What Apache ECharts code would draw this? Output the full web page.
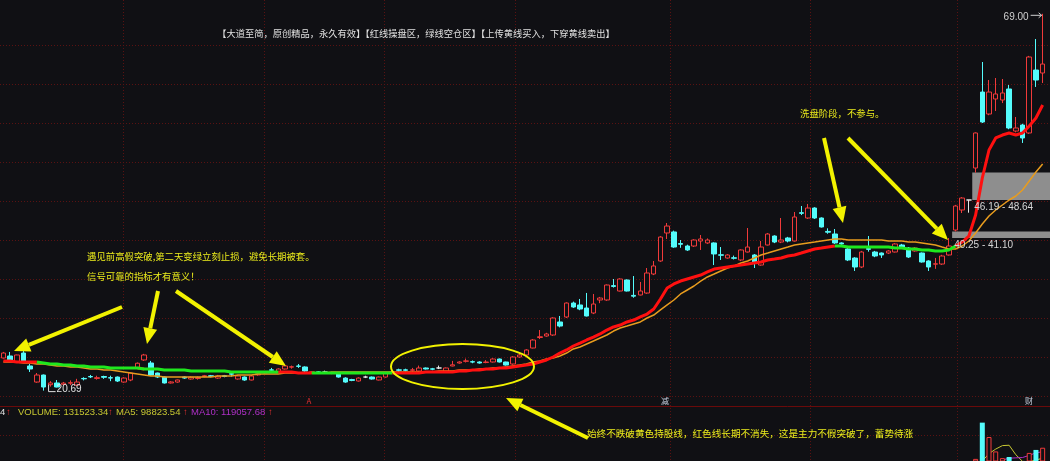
<!DOCTYPE html>
<html>
<head>
<meta charset="utf-8">
<script src="https://cdn.jsdelivr.net/npm/echarts@6/dist/echarts.min.js"></script>
<style>
html,body{margin:0;padding:0;background:#101014;overflow:hidden;}
#chart{width:1050px;height:461px;}
</style>
</head>
<body>
<div id="chart"></div>
<script>
// ---------------- DATA ----------------
const opens = [24.87,25.13,24.36,25.51,23.85,21.79,22.69,21.45,21.67,21.50,
21.65,21.41,22.25,22.50,22.25,22.50,22.35,22.43,21.79,22.05,
23.60,24.62,24.23,22.95,22.43,21.67,21.79,22.43,22.18,22.25,
22.50,22.60,22.30,22.60,22.85,22.18,22.43,22.05,22.70,22.95,
23.35,23.08,23.46,23.70,23.85,23.72,23.05,23.10,23.08,22.90,
22.95,22.30,22.10,21.92,22.43,22.43,22.05,22.43,23.00,23.35,
23.35,23.30,23.20,23.59,23.48,23.59,23.08,23.85,24.23,24.45,
24.40,24.36,24.30,24.36,24.74,24.36,24.10,25.00,25.26,26.15,
27.50,27.69,27.82,29.49,30.13,31.92,31.67,31.28,30.64,32.31,
32.31,34.15,33.46,34.87,32.90,32.95,33.20,35.64,37.31,40.90,
41.03,39.55,39.23,39.23,39.87,39.62,39.62,38.10,37.69,37.72,
37.44,38.46,38.08,36.79,39.36,40.51,39.74,40.26,39.87,43.50,
42.82,44.10,42.82,41.10,40.77,39.62,38.85,37.69,36.54,38.90,
38.46,38.33,38.33,38.46,39.36,38.97,38.59,38.33,37.31,36.90,
36.92,38.08,41.28,43.85,45.13,49.23,58.97,56.15,58.08,57.95,
59.36,53.97,54.74,53.72,61.79,61.41];
const closes = [25.51,24.49,25.26,24.36,23.46,22.69,21.15,21.67,21.15,21.65,
21.70,21.79,22.20,22.45,22.35,22.40,22.30,21.92,22.30,22.95,
24.20,25.26,22.69,22.43,21.67,21.80,22.05,22.30,22.40,22.35,
22.60,22.50,22.56,22.50,22.80,22.56,22.05,22.56,22.85,23.08,
23.30,23.46,23.85,23.75,23.80,23.20,23.10,23.00,23.08,23.00,
22.43,21.79,22.00,22.30,22.43,22.18,22.43,22.95,23.10,23.30,
23.30,23.35,23.59,23.46,23.44,23.59,23.59,24.00,24.36,24.50,
24.35,24.23,24.36,24.74,24.36,23.97,25.00,25.26,25.90,27.18,
27.60,27.95,30.00,28.97,31.92,31.41,31.15,30.26,31.79,32.56,
34.23,34.05,35.00,33.46,32.80,33.46,35.77,36.67,40.38,41.79,
39.10,39.45,38.72,40.00,40.13,40.00,38.21,38.05,38.08,37.66,
38.72,39.10,37.05,39.10,40.77,39.74,40.00,39.87,42.95,43.42,
44.10,42.82,41.67,41.00,39.62,39.49,37.44,36.54,38.46,38.80,
37.95,38.08,38.59,39.49,39.10,37.82,38.97,37.18,36.54,36.95,
37.95,39.23,44.36,45.38,45.13,53.72,55.13,58.97,58.72,58.85,
54.36,54.36,53.08,63.46,60.51,62.56];
const lows = [24.80,24.40,24.25,24.30,23.08,21.70,20.69,21.20,21.10,21.40,
21.40,21.30,22.00,22.30,22.10,22.20,21.90,21.80,21.70,21.90,
23.50,24.50,22.60,22.30,21.60,21.60,21.70,22.20,22.10,22.10,
22.40,22.40,22.20,22.40,22.50,22.10,21.95,22.00,22.60,22.85,
23.10,23.00,23.40,23.50,23.60,23.10,22.95,22.90,22.95,22.80,
22.35,21.70,21.90,21.85,22.30,22.10,22.00,22.35,22.90,23.10,
23.15,23.10,23.10,23.40,23.30,23.45,23.00,23.80,24.15,24.30,
24.20,24.15,24.20,24.30,24.30,23.90,24.00,24.90,25.20,26.10,
27.30,27.60,27.70,28.80,30.00,31.30,31.00,30.20,30.50,31.90,
32.20,33.90,33.40,33.40,32.60,32.90,33.10,35.50,37.20,40.13,
39.00,39.00,38.60,39.10,38.72,39.50,36.79,37.44,37.60,37.50,
37.30,38.40,36.41,36.70,39.30,39.60,39.60,39.70,39.80,43.20,
42.70,42.70,41.60,40.80,39.50,39.40,37.30,36.03,36.40,38.50,
37.80,37.70,38.20,38.40,39.00,37.70,38.50,37.10,36.03,36.30,
36.80,38.00,41.10,43.46,43.50,48.64,55.00,56.00,56.54,57.56,
54.20,53.80,52.44,53.60,59.62,60.13];
const highs = [25.65,25.65,25.30,25.90,24.10,22.95,22.75,21.90,22.05,21.80,
22.00,22.20,22.40,22.70,22.60,22.60,22.60,22.50,22.40,23.00,
24.30,25.40,24.50,23.00,22.50,21.90,22.10,22.50,22.50,22.50,
22.70,22.70,22.70,22.70,23.10,22.70,22.50,22.70,22.95,23.20,
23.60,23.55,24.00,23.90,24.10,23.80,23.20,23.20,23.25,23.10,
23.00,22.40,22.20,22.40,22.60,22.50,22.50,23.00,23.20,23.50,
23.50,23.60,23.90,23.65,23.60,23.90,23.65,24.50,24.45,24.80,
24.55,24.45,24.60,24.85,24.80,24.40,25.10,25.50,26.00,27.30,
28.46,28.10,30.10,30.26,32.00,32.10,32.44,33.21,33.08,32.70,
34.30,35.00,35.10,34.95,35.38,34.62,36.41,37.31,40.50,42.18,
41.20,40.00,39.40,40.10,40.64,40.20,39.70,39.10,38.20,38.00,
38.80,41.54,38.20,39.87,40.90,40.60,42.82,40.40,43.59,44.36,
44.62,44.20,42.90,41.50,41.41,39.70,39.00,37.80,38.60,40.51,
38.60,38.40,38.70,39.60,39.50,39.10,39.10,38.40,37.40,37.70,
38.10,40.25,44.50,45.50,45.13,53.80,62.82,60.51,60.77,60.64,
59.87,55.77,54.90,63.60,65.77,69.00];
// thick trend line (red = 操盘区, green = 空仓区)
const trendLine = [24.49,24.49,24.36,24.36,24.36,24.36,24.23,24.10,24.10,23.97,
23.97,23.85,23.85,23.72,23.72,23.72,23.59,23.59,23.59,23.59,
23.59,23.46,23.46,23.46,23.33,23.33,23.33,23.33,23.21,23.21,
23.21,23.21,23.21,23.21,23.08,23.08,23.08,23.08,23.08,23.08,
23.08,23.08,23.08,23.08,22.95,22.95,22.95,22.95,22.95,22.95,
22.95,22.95,22.95,22.95,22.95,22.95,22.95,22.95,22.95,22.95,
22.95,22.95,22.95,23.08,23.08,23.08,23.08,23.08,23.21,23.21,
23.33,23.33,23.46,23.46,23.59,23.59,23.72,23.85,23.97,24.10,
24.36,24.62,25.00,25.51,25.90,26.41,26.79,27.18,27.56,27.95,
28.46,28.85,29.10,29.49,29.74,30.13,30.51,31.15,32.44,33.85,
34.36,34.74,35.00,35.26,35.51,35.90,36.28,36.41,36.54,36.67,
36.79,36.92,37.05,37.18,37.44,37.56,37.69,37.95,38.08,38.33,
38.59,38.85,38.97,39.10,39.23,39.23,39.10,39.10,39.10,39.10,
39.10,39.10,39.10,38.97,38.97,38.85,38.85,38.72,38.72,38.59,
38.59,38.72,39.23,39.74,40.51,43.21,47.95,51.54,53.08,53.46,
53.72,53.46,53.72,54.62,55.64,57.31];
// green (空仓区) stretches of the trend line, as [firstIndex, lastIndex]
const greenZones = [[6,19],[22,40],[47,57],[125,141]];
// thin yellow "持股线"
const holdLine = [24.36,24.36,24.36,24.23,24.23,24.10,24.10,23.97,23.85,23.85,
23.72,23.72,23.59,23.46,23.46,23.33,23.33,23.21,23.08,22.95,
22.82,22.69,22.56,22.56,22.44,22.44,22.44,22.44,22.44,22.44,
22.44,22.44,22.56,22.56,22.56,22.69,22.69,22.69,22.82,22.82,
22.82,22.82,22.95,22.95,22.95,22.95,22.95,22.95,22.95,23.08,
23.08,23.08,23.08,23.08,23.08,23.08,23.08,23.08,23.08,23.08,
23.08,23.08,23.08,23.08,23.08,23.21,23.21,23.21,23.33,23.33,
23.33,23.46,23.46,23.59,23.59,23.72,23.85,23.97,24.10,24.36,
24.49,24.74,24.87,25.13,25.51,26.03,26.28,26.67,27.05,27.44,
27.82,28.33,28.72,28.97,29.23,29.49,30.00,30.38,31.03,31.67,
32.31,33.08,33.59,34.10,34.74,35.26,35.64,36.03,36.41,36.67,
37.05,37.31,37.69,38.08,38.33,38.59,38.85,39.10,39.36,39.49,
39.62,39.74,39.87,40.00,40.13,40.13,40.00,40.00,40.00,40.00,
40.00,40.00,39.87,39.87,39.87,39.74,39.74,39.62,39.49,39.36,
39.10,38.85,38.85,39.23,39.87,40.90,42.05,43.08,43.85,44.49,
45.13,45.64,46.41,47.56,48.72,49.74];
// volume (only the tail that rises into view), starting at index 140
const volumeStart = 140;
const volumeTail = [45000,52000,50000,48000,45000,96600,210000,165000,120000,99000,
102455,62000,60700,115300,124600,131523.34];
const volMA5Start = 146;
const volMA5Tail = [89920,112920,127320,138120,139291,109691,88831,87891,93011,98823.54];
const volMA10Start = 149;
const volMA10Tail = [93060,98806,99806,100876,107606,115566,119057.68];
// price gaps (缺口)
const gapStartIdx = [142, 145];
const gapLow = [40.25, 45.13];
const gapHigh = [41.10, 48.64];
const gapLabels = ['40.25 - 41.10', '46.19 - 48.64'];
// price grid lines and visible ranges
const priceGridLines = [15, 20, 25, 30, 35, 40, 45, 50, 55, 60, 65];
const priceRange = [15, 70];
const volumeRange = [90000, 262000];
const lowLabel = '20.69';
const highLabel = '69.00';

// ---------------- BUILD ----------------
const N = opens.length;
const categories = Array.from({length: N}, (_, i) => 'K' + (i + 1));
const candleData = opens.map((o, i) => [o, closes[i], lows[i], highs[i]]);
const inGreen = i => greenZones.some(z => i >= z[0] && i <= z[1]);
const trendRed = trendLine.map((v, i) => inGreen(i) ? null : v);
const trendGreen = trendLine.map((v, i) => (inGreen(i) || inGreen(i - 1) || inGreen(i + 1)) ? v : null);
const pad = (start, tail) => Array.from({length: N}, (_, i) => (i >= start && i - start < tail.length) ? tail[i - start] : null);
const volFull = pad(volumeStart, volumeTail);
const volMA5 = pad(volMA5Start, volMA5Tail);
const volMA10 = pad(volMA10Start, volMA10Tail);

const BG = '#101014';
const UP = '#f03a3a';
const DOWN = '#54fcfc';
const volData = volFull.map((v, i) => {
  if (v == null) return null;
  const up = closes[i] >= opens[i];
  return {value: v, itemStyle: up ? {color: BG, borderColor: UP, borderWidth: 1} : {color: DOWN}};
});

const chart = echarts.init(document.getElementById('chart'), null, {renderer: 'canvas'});
const option = {
  backgroundColor: BG,
  animation: false,
  grid: [
    {left: 0, right: 4, top: 6, height: 429},
    {left: 0, right: 4, top: 406, height: 55}
  ],
  xAxis: [
    {type: 'category', gridIndex: 0, data: categories, boundaryGap: true,
     axisLine: {show: false}, axisTick: {show: false}, axisLabel: {show: false}, splitLine: {show: false}},
    {type: 'category', gridIndex: 1, data: categories, boundaryGap: true,
     axisLine: {show: false}, axisTick: {show: false}, axisLabel: {show: false}, splitLine: {show: false}}
  ],
  yAxis: [
    {type: 'value', gridIndex: 0, min: priceRange[0], max: priceRange[1],
     axisLine: {show: false}, axisTick: {show: false}, axisLabel: {show: false}, splitLine: {show: false}},
    {type: 'value', gridIndex: 1, min: volumeRange[0], max: volumeRange[1],
     axisLine: {show: false}, axisTick: {show: false}, axisLabel: {show: false}, splitLine: {show: false}}
  ],
  series: [
    {type: 'candlestick', name: 'K', xAxisIndex: 0, yAxisIndex: 0, data: candleData,
     barWidth: 5, z: 2,
     itemStyle: {color: BG, color0: DOWN, borderColor: UP, borderColor0: DOWN, borderColorDoji: '#e6e6e6', borderWidth: 1}},
    {type: 'line', name: 'hold', data: holdLine, xAxisIndex: 0, yAxisIndex: 0, symbol: 'none', z: 3,
     lineStyle: {color: '#e89c1e', width: 1.5}},
    {type: 'line', name: 'trendRed', data: trendRed, xAxisIndex: 0, yAxisIndex: 0, symbol: 'none', z: 4,
     connectNulls: false, lineStyle: {color: '#ff1010', width: 3}},
    {type: 'line', name: 'trendGreen', data: trendGreen, xAxisIndex: 0, yAxisIndex: 0, symbol: 'none', z: 5,
     connectNulls: false, lineStyle: {color: '#1ee81e', width: 3}},
    {type: 'line', name: 'MA5', data: volMA5, xAxisIndex: 1, yAxisIndex: 1, symbol: 'none', z: 2,
     lineStyle: {color: '#c8c832', width: 1}},
    {type: 'line', name: 'MA10', data: volMA10, xAxisIndex: 1, yAxisIndex: 1, symbol: 'none', z: 2,
     lineStyle: {color: '#b030c8', width: 1}},
    {type: 'bar', name: 'VOLUME', data: volData, xAxisIndex: 1, yAxisIndex: 1, barWidth: 5, z: 3, clip: true}
  ]
};
chart.setOption(option);

// ---------------- OVERLAYS ----------------
const px = (i, p) => chart.convertToPixel({xAxisIndex: 0, yAxisIndex: 0}, [i, p]);
const x0 = px(0, 20)[0], step = px(1, 20)[0] - x0;
const g = [];
const CJK = '"Noto Sans CJK SC", sans-serif';
const NUM = '"Liberation Sans", Arial, sans-serif';
const YEL = '#ecec1c';
const GRIDC = '#5a1212';

// horizontal dotted price grid lines
priceGridLines.forEach(p => {
  const y = Math.round(px(0, p)[1]) + 0.5;
  g.push({type: 'line', z: 0, silent: true, shape: {x1: 0, y1: y, x2: 1050, y2: y},
    style: {stroke: GRIDC, lineWidth: 1, lineDash: [1, 2]}});
});
// vertical dotted separators (fractional candle positions)
const vSep = [17.8, 38.8, 56.7, 76.3, 99.4, 120.3, 142.2];
vSep.forEach(k => {
  const x = Math.round(x0 + k * step) + 0.5;
  g.push({type: 'line', z: 0, silent: true, shape: {x1: x, y1: 0, x2: x, y2: 461},
    style: {stroke: GRIDC, lineWidth: 1, lineDash: [1, 2]}});
});
// panel separator
g.push({type: 'line', z: 1, shape: {x1: 0, y1: 406.5, x2: 1050, y2: 406.5}, style: {stroke: '#6a0a0a', lineWidth: 1}});

// gap bands
gapStartIdx.forEach((k, j) => {
  const left = x0 + (k - 0.5) * step;
  const yTop = px(k, gapHigh[j])[1], yBot = px(k, gapLow[j])[1];
  g.push({type: 'rect', z: 1, shape: {x: left, y: yTop, width: 1050 - left, height: yBot - yTop},
    style: {fill: '#8e8e8e'}});
  g.push({type: 'text', z: 50, style: {text: gapLabels[j], x: left + 2, y: yBot + 7, fill: '#d6d6d6',
    font: '10px ' + NUM, textAlign: 'left', textVerticalAlign: 'middle'}});
});

// low / high labels
const lowI = lows.indexOf(Math.min(...lows));
const lp = px(lowI, lows[lowI]);
g.push({type: 'polyline', z: 50, shape: {points: [[lp[0] + 5, lp[1] - 6], [lp[0] + 5, lp[1] + 1], [lp[0] + 12, lp[1] + 1]]},
  style: {stroke: '#e0e0e0', lineWidth: 1, fill: null}});
g.push({type: 'text', z: 50, style: {text: lowLabel, x: lp[0] + 13, y: lp[1] - 1, fill: '#e0e0e0',
  font: '10px ' + NUM, textAlign: 'left', textVerticalAlign: 'middle'}});
const hiI = highs.indexOf(Math.max(...highs));
const hp = px(hiI, highs[hiI]);
g.push({type: 'text', z: 50, style: {text: highLabel, x: hp[0] - 14, y: hp[1] + 3, fill: '#d0d0d0',
  font: '10px ' + NUM, textAlign: 'right', textVerticalAlign: 'middle'}});
g.push({type: 'line', z: 50, shape: {x1: hp[0] - 12, y1: hp[1] + 1.5, x2: hp[0] - 1, y2: hp[1] + 1.5}, style: {stroke: '#d0d0d0', lineWidth: 1}});
g.push({type: 'polyline', z: 50, shape: {points: [[hp[0] - 4, hp[1] - 1], [hp[0] - 1, hp[1] + 1.5], [hp[0] - 4, hp[1] + 4]]}, style: {stroke: '#d0d0d0', lineWidth: 1, fill: null}});

// texts
const texts = [
  {t: '【大道至简，原创精品，永久有效】【红线操盘区，绿线空仓区】【上传黄线买入，下穿黄线卖出】', x: 416, y: 33, c: '#e0e0e0', s: 9.25, a: 'center'},
  {t: '遇见前高假突破,第二天变绿立刻止损，避免长期被套。', x: 87, y: 256, c: YEL, s: 9.4, a: 'left'},
  {t: '信号可靠的指标才有意义！', x: 87, y: 276, c: YEL, s: 9.4, a: 'left'},
  {t: '洗盘阶段，不参与。', x: 800, y: 113, c: YEL, s: 9.4, a: 'left'},
  {t: '始终不跌破黄色持股线，红色线长期不消失，这是主力不假突破了，蓄势待涨', x: 587, y: 433, c: YEL, s: 9.6, a: 'left'}
];
texts.forEach(o => g.push({type: 'text', z: 60, style: {text: o.t, x: o.x, y: o.y, fill: o.c,
  font: o.s + 'px ' + CJK, textAlign: o.a, textVerticalAlign: 'middle'}}));

// volume info line
const vol = [
  {t: '4', x: 0, c: '#e0e0e0'}, {t: '↑', x: 6, c: '#e03030'},
  {t: 'VOLUME: 131523.34', x: 18, c: '#c8c832'}, {t: '↑', x: 108, c: '#e03030'},
  {t: 'MA5: 98823.54', x: 116, c: '#c8c832'}, {t: '↑', x: 183, c: '#e03030'},
  {t: 'MA10: 119057.68', x: 191, c: '#b030c8'}, {t: '↑', x: 268, c: '#e03030'}
];
vol.forEach(o => g.push({type: 'text', z: 60, style: {text: o.t, x: o.x, y: 412, fill: o.c,
  font: '9.5px ' + NUM, textAlign: 'left', textVerticalAlign: 'middle'}}));

// event markers
[{t: 'A', x: 309, c: '#e03030'}, {t: '减', x: 665, c: '#c8d0e0'}, {t: '财', x: 1029, c: '#c8d0e0'}].forEach(o =>
  g.push({type: 'text', z: 60, style: {text: o.t, x: o.x, y: 401, fill: o.c, font: '8px ' + CJK, textAlign: 'center', textVerticalAlign: 'middle'}}));

// arrows
const arrows = [
  [[122, 307], [14, 351]],
  [[158, 291], [147, 344]],
  [[176, 291], [286, 366]],
  [[824, 138], [843, 223]],
  [[848, 138], [948, 240]],
  [[588, 438], [506, 398]]
];
arrows.forEach(([f, t]) => {
  const dx = t[0] - f[0], dy = t[1] - f[1], L = Math.hypot(dx, dy);
  const ux = dx / L, uy = dy / L, H = 16, W = 7;
  const bx = t[0] - ux * H, by = t[1] - uy * H;
  g.push({type: 'line', z: 70, shape: {x1: f[0], y1: f[1], x2: bx, y2: by}, style: {stroke: '#f2f200', lineWidth: 4}});
  g.push({type: 'polygon', z: 70, shape: {points: [[t[0], t[1]], [bx - uy * W, by + ux * W], [bx + uy * W, by - ux * W]]}, style: {fill: '#f2f200'}});
});
// ellipse
g.push({type: 'ellipse', z: 70, shape: {cx: 462.5, cy: 366.5, rx: 71.5, ry: 22.5}, style: {fill: null, stroke: '#f2f200', lineWidth: 2}});

chart.setOption({graphic: {elements: g}});
</script>
</body>
</html>
